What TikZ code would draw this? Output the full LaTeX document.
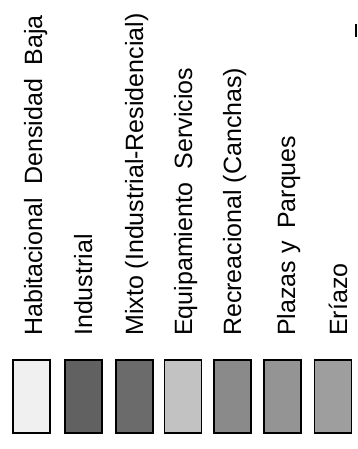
\documentclass[tikz,border=0pt]{standalone}
\usepackage{fontspec}
\setmainfont{Liberation Sans}
\usetikzlibrary{positioning}

\begin{document}
\begin{tikzpicture}[x=1pt,y=-1pt,
  every node/.style={font=\fontsize{25}{25}\selectfont},
  swatch/.style={draw,line width=1.6pt,minimum width=37pt,minimum height=73pt,inner sep=0pt},
  legendtext/.style={rotate=90,anchor=base west,inner sep=0pt}]
  \useasboundingbox (0,0) rectangle (357,449);
  % swatches
  \foreach \c/\xc/\g in {0/31.5/6,1/83.5/62,2/134.5/58,3/183/24,4/232.5/46,5/282.5/42,6/333/38}{
      \node[swatch,fill=black!\g] (s\c) at (\xc,396.5) {};
  }
  % labels
  \node[legendtext] (t0) at (42,336) {Habitacional\hspace{0.55em}Densidad\hspace{0.55em}Baja};
  \node[legendtext] (t1) at (92,336) {Industrial};
  \node[legendtext] (t2) at (143,336) {Mixto (Industrial-Residencial)};
  \node[legendtext] (t3) at (192,336) {Equipamiento\hspace{0.55em}Servicios};
  \node[legendtext] (t4) at (241,336) {Recreacional (Canchas)};
  \node[legendtext] (t5) at (295,336) {Plazas y\hspace{0.5em}Parques};
  \node[legendtext] (t6) at (347,336) {Eríazo};
  \draw[line width=2pt] (356,24) -- (356,37);
\end{tikzpicture}
\end{document}
